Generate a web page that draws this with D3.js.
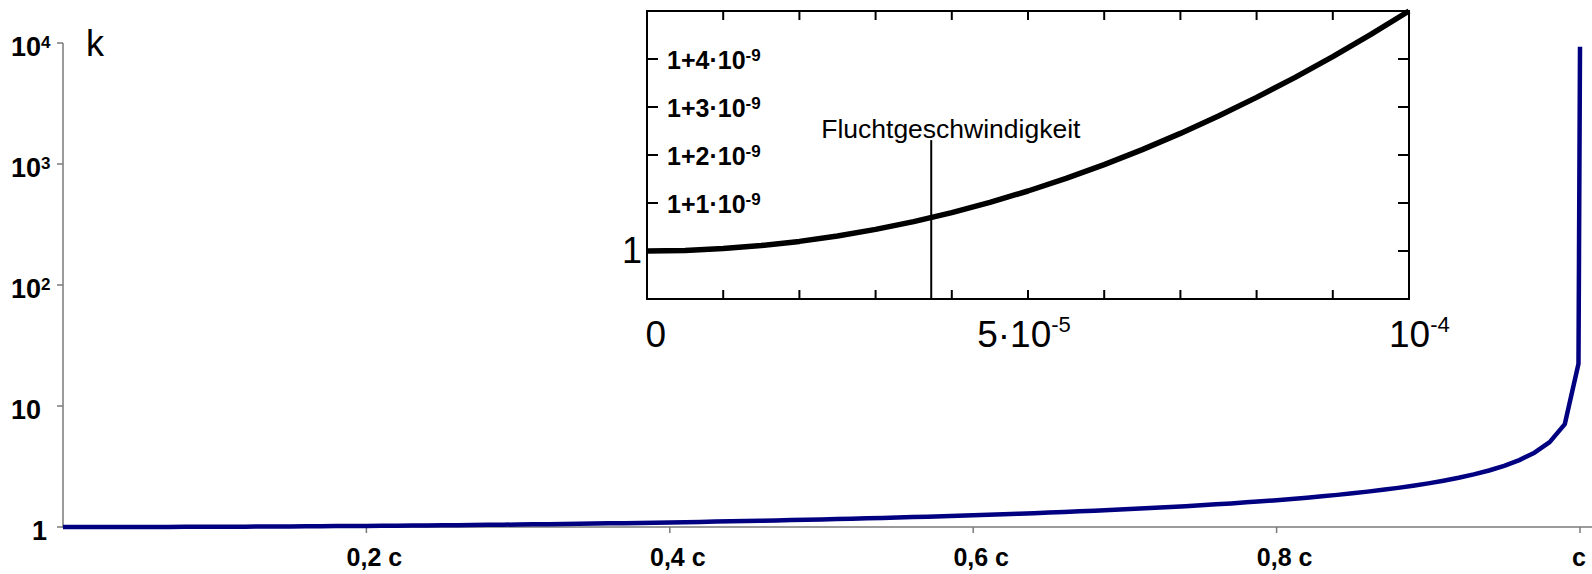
<!DOCTYPE html>
<html><head><meta charset="utf-8">
<script src="https://cdn.jsdelivr.net/npm/d3@7"></script>
<style>body{margin:0;background:#fff}svg{display:block}text{font-family:"Liberation Sans",Arial,sans-serif}</style>
</head><body><svg id="c" width="1592" height="574"></svg>
<script>
// Main chart: speed (fraction of c) vs. k (Lorentz factor), log axis
const speeds = [0,0.01,0.02,0.03,0.04,0.05,0.06,0.07,0.08,0.09,0.10,0.11,0.12,0.13,0.14,0.15,0.16,0.17,0.18,0.19,
  0.20,0.21,0.22,0.23,0.24,0.25,0.26,0.27,0.28,0.29,0.30,0.31,0.32,0.33,0.34,0.35,0.36,0.37,0.38,0.39,
  0.40,0.41,0.42,0.43,0.44,0.45,0.46,0.47,0.48,0.49,0.50,0.51,0.52,0.53,0.54,0.55,0.56,0.57,0.58,0.59,
  0.60,0.61,0.62,0.63,0.64,0.65,0.66,0.67,0.68,0.69,0.70,0.71,0.72,0.73,0.74,0.75,0.76,0.77,0.78,0.79,
  0.80,0.81,0.82,0.83,0.84,0.85,0.86,0.87,0.88,0.89,0.90,0.91,0.92,0.93,0.94,0.95,0.96,0.97,0.98,0.99,
  0.999,0.99999999];
const kValues = [1,1.000,1.000,1.000,1.001,1.001,1.002,1.002,1.003,1.004,1.005,1.006,1.007,1.009,1.010,1.011,1.013,1.015,1.017,1.019,
  1.021,1.023,1.025,1.028,1.030,1.033,1.036,1.039,1.042,1.045,1.048,1.052,1.056,1.059,1.063,1.068,1.072,1.076,1.081,1.086,
  1.091,1.096,1.102,1.108,1.114,1.120,1.126,1.133,1.140,1.147,1.155,1.163,1.171,1.179,1.188,1.197,1.207,1.217,1.228,1.239,
  1.250,1.262,1.275,1.288,1.301,1.316,1.331,1.347,1.364,1.382,1.400,1.420,1.441,1.463,1.487,1.512,1.539,1.567,1.598,1.631,
  1.667,1.705,1.747,1.793,1.843,1.898,1.960,2.028,2.105,2.193,2.294,2.412,2.552,2.721,2.931,3.203,3.571,4.113,5.025,7.089,
  22.37,9300];
const mainXTicks = [0.2,0.4,0.6,0.8,1];
const mainXLabels = ["0,2 c","0,4 c","0,6 c","0,8 c","c"];
const mainYTicks = [1,10,100,1000,10000];
const mainYLabels = [["1",""],["10",""],["10","2"],["10","3"],["10","4"]];
const mainYTitle = "k";

// Inset: speed in units of 1e-5 c, k - 1 in units of 1e-9
const insetSpeeds = [0,0.5,1,1.5,2,2.5,3,3.5,4,4.5,5,5.5,6,6.5,7,7.5,8,8.5,9,9.5,10];
const insetExcess = [0,0.0125,0.05,0.1125,0.2,0.3125,0.45,0.6125,0.8,1.0125,1.25,1.5125,1.8,2.1125,2.45,2.8125,3.2,3.6125,4.05,4.5125,5];
const insetXTicks = [1,2,3,4,5,6,7,8,9];
const insetXLabelVals = [0,5,10];
const insetXLabels = [["0",""],["5·10","-5"],["10","-4"]];
const insetYTicks = [0,1,2,3,4];
const insetYLabelVals = [1,2,3,4];
const insetYLabels = [["1+1·10","-9"],["1+2·10","-9"],["1+3·10","-9"],["1+4·10","-9"]];
const insetOneLabel = "1";
const escapeSpeed = 3.73;   // 11.2 km/s
const escapeTop = 2.31;
const escapeLabel = "Fluchtgeschwindigkeit";

const svg = d3.select("#c");
const x = d3.scaleLinear().domain([0,1]).range([63,1580]);
const y = d3.scaleLog().domain([1,10000]).range([527,43]);
const grey = "#7a7a7a";

// axes
svg.append("line").attr("x1",63).attr("x2",63).attr("y1",y(10000)).attr("y2",y(1)).attr("stroke",grey).attr("stroke-width",1.5);
svg.append("line").attr("x1",62).attr("x2",1592).attr("y1",y(1)).attr("y2",y(1)).attr("stroke",grey).attr("stroke-width",1.5);
svg.selectAll(".yt").data(mainYTicks).enter().append("line")
  .attr("x1",57).attr("x2",63).attr("y1",d=>y(d)).attr("y2",d=>y(d)).attr("stroke",grey).attr("stroke-width",1.5);
svg.selectAll(".xt").data(mainXTicks).enter().append("line")
  .attr("x1",d=>x(d)).attr("x2",d=>x(d)).attr("y1",y(1)).attr("y2",y(1)+6).attr("stroke",grey).attr("stroke-width",1.5);

mainYLabels.forEach((l,i)=>{
  const t = svg.append("text").attr("x", l[0]==="1"?32:11).attr("y", y(mainYTicks[i])+13)
    .attr("font-weight","bold").attr("font-size",27).attr("fill","#000");
  t.append("tspan").text(l[0]);
  if(l[1]) t.append("tspan").attr("dy",-8).attr("font-size",17).text(l[1]);
});
mainXLabels.forEach((l,i)=>{
  svg.append("text").attr("x", x(mainXTicks[i])+ (i===mainXLabels.length-1?-1:8)).attr("y",566)
    .attr("text-anchor","middle").attr("font-weight","bold").attr("font-size",25).text(l);
});
svg.append("text").attr("x",86).attr("y",56).attr("font-size",36).text(mainYTitle);

// main line
const pts = speeds.map((s,i)=>[s,kValues[i]]);
svg.append("path").datum(pts)
  .attr("d", d3.line().x(d=>x(d[0])).y(d=>y(d[1])))
  .attr("fill","none").attr("stroke","#000080").attr("stroke-width",4.5).attr("stroke-linejoin","round");

// inset
const ix = d3.scaleLinear().domain([0,10]).range([647,1409]);
const iy = d3.scaleLinear().domain([-1,5]).range([299,11]);
const g = svg.append("g");
g.append("rect").attr("x",ix(0)).attr("y",iy(5)).attr("width",ix(10)-ix(0)).attr("height",iy(-1)-iy(5))
  .attr("fill","#fff").attr("stroke","#000").attr("stroke-width",2);
insetXTicks.forEach(v=>{
  g.append("line").attr("x1",ix(v)).attr("x2",ix(v)).attr("y1",iy(5)).attr("y2",iy(5)+9).attr("stroke","#000").attr("stroke-width",2);
  g.append("line").attr("x1",ix(v)).attr("x2",ix(v)).attr("y1",iy(-1)).attr("y2",iy(-1)-9).attr("stroke","#000").attr("stroke-width",2);
});
insetYTicks.forEach(v=>{
  g.append("line").attr("x1",ix(0)).attr("x2",ix(0)+11).attr("y1",iy(v)).attr("y2",iy(v)).attr("stroke","#000").attr("stroke-width",2);
  g.append("line").attr("x1",ix(10)).attr("x2",ix(10)-11).attr("y1",iy(v)).attr("y2",iy(v)).attr("stroke","#000").attr("stroke-width",2);
});
insetYLabels.forEach((l,i)=>{
  const t = g.append("text").attr("x",ix(0)+20).attr("y",iy(insetYLabelVals[i])+10)
    .attr("font-weight","bold").attr("font-size",25);
  t.append("tspan").text(l[0]);
  t.append("tspan").attr("dy",-8).attr("font-size",17).text(l[1]);
});
g.append("text").attr("x",ix(0)-5).attr("y",iy(0)+12).attr("text-anchor","end").attr("font-size",36).text(insetOneLabel);
insetXLabels.forEach((l,i)=>{
  const v = insetXLabelVals[i];
  const anchor = i===0 ? "start" : (i===insetXLabels.length-1 ? "start" : "middle");
  const dx = i===0 ? -1.5 : (i===insetXLabels.length-1 ? -20 : -4);
  const t = g.append("text").attr("x",ix(v)+dx).attr("y",347).attr("text-anchor",anchor).attr("font-size",37);
  t.append("tspan").text(l[0]);
  if(l[1]) t.append("tspan").attr("dy",-15).attr("font-size",22).text(l[1]);
});
// escape speed marker
g.append("line").attr("x1",ix(escapeSpeed)).attr("x2",ix(escapeSpeed)).attr("y1",iy(-1)).attr("y2",iy(escapeTop))
  .attr("stroke","#000").attr("stroke-width",2);
g.append("text").attr("x",ix(escapeSpeed)-110).attr("y",iy(escapeTop)-2).attr("font-size",26.5).text(escapeLabel);
// inset curve
g.append("path").datum(insetSpeeds.map((s,i)=>[s,insetExcess[i]]))
  .attr("d", d3.line().x(d=>ix(d[0])).y(d=>iy(d[1])))
  .attr("fill","none").attr("stroke","#000").attr("stroke-width",5.5).attr("stroke-linejoin","round");
</script></body></html>
